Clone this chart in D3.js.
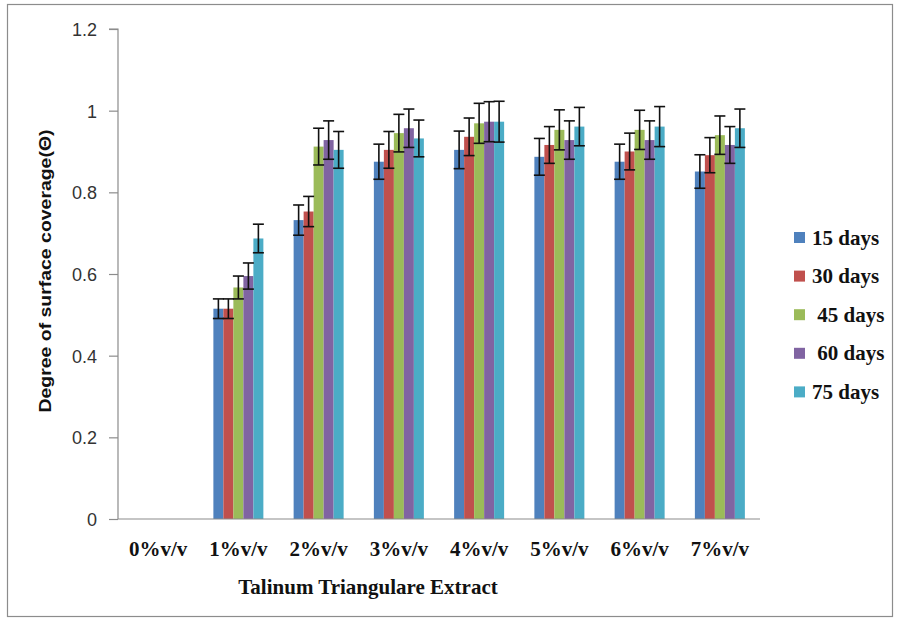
<!DOCTYPE html>
<html>
<head>
<meta charset="utf-8">
<script src="https://cdn.jsdelivr.net/npm/d3@7"></script>
<style>
  html, body { margin: 0; padding: 0; background: #fff; }
  svg { display: block; }
  text { white-space: pre; }
</style>
</head>
<body>
<svg id="chart" width="899" height="624"></svg>
<script>
const categories = ["0%v/v", "1%v/v", "2%v/v", "3%v/v", "4%v/v", "5%v/v", "6%v/v", "7%v/v"];
const seriesNames = ["15 days", "30 days", " 45 days", " 60 days", "75 days"];
const colors = ["#4F81BD", "#C0504D", "#9BBB59", "#8064A2", "#4BACC6"];
const yTicks = [0, 0.2, 0.4, 0.6, 0.8, 1, 1.2];

// values per series (one per category); null = no bar
const d15 = [null, 0.515, 0.732, 0.875, 0.904, 0.887, 0.875, 0.851];
const d30 = [null, 0.515, 0.753, 0.904, 0.936, 0.916, 0.900, 0.891];
const d45 = [null, 0.567, 0.912, 0.945, 0.969, 0.953, 0.953, 0.940];
const d60 = [null, 0.595, 0.928, 0.957, 0.973, 0.928, 0.928, 0.916];
const d75 = [null, 0.687, 0.904, 0.932, 0.973, 0.961, 0.961, 0.957];
// error (+/-) per series
const e15 = [null, 0.024, 0.037, 0.043, 0.046, 0.045, 0.043, 0.041];
const e30 = [null, 0.024, 0.037, 0.045, 0.046, 0.045, 0.045, 0.043];
const e45 = [null, 0.028, 0.045, 0.046, 0.049, 0.049, 0.048, 0.047];
const e60 = [null, 0.032, 0.047, 0.047, 0.049, 0.047, 0.047, 0.045];
const e75 = [null, 0.035, 0.045, 0.045, 0.050, 0.047, 0.049, 0.047];

const values = [d15, d30, d45, d60, d75];
const errors = [e15, e30, e45, e60, e75];

(function () {
const svg = d3.select("#chart");

svg.append("rect").attr("x", 7.5).attr("y", 4.5).attr("width", 885).attr("height", 612)
  .attr("fill", "#fff").attr("stroke", "#8c8c8c").attr("stroke-width", 1.2);

const pLeft = 118, pRight = 760, pTop = 29, pBottom = 519;

const y = d3.scaleLinear().domain([0, 1.2]).range([pBottom, pTop]);
const x0 = d3.scaleBand().domain(categories).range([pLeft, pRight]).paddingInner(0.377).paddingOuter(0.1885);
const x1 = d3.scaleBand().domain(d3.range(seriesNames.length)).range([0, x0.bandwidth()]).padding(0);

categories.forEach((c, ci) => {
  const g = svg.append("g").attr("transform", `translate(${x0(c)},0)`);
  values.forEach((vals, si) => {
    const v = vals[ci];
    if (v == null) return;
    g.append("rect")
      .attr("x", x1(si)).attr("width", x1.bandwidth())
      .attr("y", y(v)).attr("height", y(0) - y(v))
      .attr("fill", colors[si]);
  });
  values.forEach((vals, si) => {
    const v = vals[ci], e = errors[si][ci];
    if (v == null || e == null) return;
    const cx = x1(si) + x1.bandwidth() / 2;
    const cap = 5.5;
    const eg = g.append("g").attr("stroke", "#111").attr("stroke-width", 1.6);
    eg.append("line").attr("x1", cx).attr("x2", cx).attr("y1", y(v + e)).attr("y2", y(v - e));
    eg.append("line").attr("x1", cx - cap).attr("x2", cx + cap).attr("y1", y(v + e)).attr("y2", y(v + e));
    eg.append("line").attr("x1", cx - cap).attr("x2", cx + cap).attr("y1", y(v - e)).attr("y2", y(v - e));
  });
});

const yAxis = d3.axisLeft(y).tickValues(yTicks).tickSize(9).tickPadding(12)
  .tickFormat(d => String(+d.toFixed(1)));
const yg = svg.append("g").attr("transform", `translate(${pLeft},0)`).call(yAxis);
yg.select(".domain").attr("stroke", "#8c8c8c").attr("stroke-width", 1.2).attr("d", `M-9,${pTop}H0V${pBottom}`);
yg.selectAll(".tick line").attr("stroke", "#8c8c8c").attr("stroke-width", 1.2);
yg.selectAll(".tick text").attr("font-family", "'Liberation Sans', Arial, sans-serif")
  .attr("font-size", 18).attr("fill", "#333").attr("dy", "0.36em");

const xAxis = d3.axisBottom(x0).tickSize(0).tickPadding(22);
const xg = svg.append("g").attr("transform", `translate(0,${pBottom})`).call(xAxis);
xg.select(".domain").attr("stroke", "#8c8c8c").attr("stroke-width", 1.2).attr("d", `M${pLeft},0H${pRight}`);
xg.selectAll(".tick text").attr("font-family", "'Liberation Serif', 'Times New Roman', serif")
  .attr("font-weight", "bold").attr("font-size", 21).attr("fill", "#111");

svg.append("text").attr("x", 368).attr("y", 594).attr("text-anchor", "middle")
  .attr("font-family", "'Liberation Serif', 'Times New Roman', serif").attr("font-weight", "bold")
  .attr("font-size", 21).attr("fill", "#111").text("Talinum Triangulare Extract");

svg.append("text").attr("transform", "translate(51,271) rotate(-90)").attr("text-anchor", "middle")
  .attr("font-family", "'Liberation Sans', Arial, sans-serif").attr("font-weight", "bold")
  .attr("font-size", 17).attr("fill", "#111")
  .attr("textLength", 283).attr("lengthAdjust", "spacingAndGlyphs")
  .text("Degree of surface coverage(Θ)");

const lg = svg.append("g");
seriesNames.forEach((n, i) => {
  const cy = 237.5 + i * 38.6;
  lg.append("rect").attr("x", 794).attr("y", cy - 5.5).attr("width", 11).attr("height", 11).attr("fill", colors[i]);
  lg.append("text").attr("x", 812).attr("y", cy + 7)
    .attr("font-family", "'Liberation Serif', 'Times New Roman', serif").attr("font-weight", "bold")
    .attr("font-size", 21).attr("fill", "#111").text(n);
});
})();
</script>
</body>
</html>
